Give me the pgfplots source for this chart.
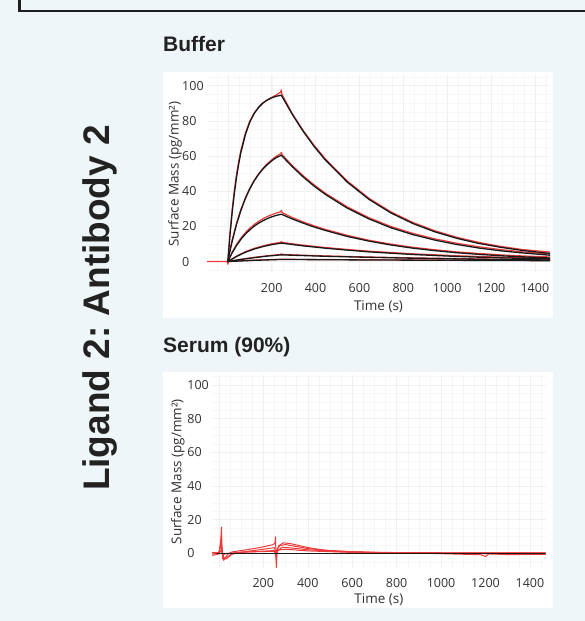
\documentclass[border=0pt]{standalone}
\usepackage{fontspec}
\usepackage{pgfplots}
\pgfplotsset{compat=1.18}
\setmainfont{Liberation Sans}
\newfontfamily\tickfont{Open Sans}
\definecolor{bg}{RGB}{238,246,249}
\definecolor{redline}{RGB}{236,58,58}
\definecolor{tickgray}{RGB}{50,50,50}
\definecolor{titlegray}{RGB}{34,34,34}
\frenchspacing

\pgfplotsset{
  kin/.style={
    scale only axis,
    axis line style={draw=none},
    major tick length=0pt, minor tick length=0pt,
    grid=both,
    major grid style={draw=black!6, line width=0.4pt},
    minor grid style={draw=black!3.5, line width=0.3pt},
    xtick={0,200,...,1400},
    xticklabels={{},200,400,600,800,1000,1200,1400},
    minor xtick={-50,0,...,1450},
    ytick={0,20,...,100},
    minor ytick={-5,0,...,105},
    /pgf/number format/assume math mode=true,
    /pgf/number format/1000 sep={},
    tick label style={font=\tickfont\fontsize{12.5}{14}\selectfont, text=tickgray, inner sep=0pt},
    xticklabel style={anchor=north, yshift=-10pt},
    yticklabel style={anchor=west, xshift=-25pt},
    label style={font=\tickfont\fontsize{13.5}{15}\selectfont, text=tickgray},
    xlabel={Time (s)},
    ylabel={Surface Mass (pg/mm²)},
    redc/.style={draw=redline, line width=1.2pt, line join=round},
    blkc/.style={draw=black!90, line width=1.3pt, line join=round},
  }
}

\begin{document}
\begin{tikzpicture}[x=1pt,y=1pt]
\useasboundingbox (0pt,0pt) rectangle (585pt,621pt);
\clip (0pt,0pt) rectangle (585pt,621pt);
\fill[bg] (0pt,0pt) rectangle (585pt,621pt);
\draw[line width=2.3pt, color=black!88] (19.5pt,640pt) -- (19.5pt,609.7pt) -- (600pt,609.7pt);
\fill[white] (163pt,303pt) rectangle (553pt,549pt);
\fill[white] (163pt,13pt) rectangle (553pt,249pt);

\node[rotate=90, anchor=base, inner sep=0pt, font=\bfseries\fontsize{37}{40}\selectfont, text=titlegray] at (109pt,313pt) {Ligand 2: Antibody 2};
\node[anchor=base west, inner sep=0pt, font=\bfseries\fontsize{21}{24}\selectfont, text=titlegray] at (163pt,569pt) {Buffer};
\node[anchor=base west, inner sep=0pt, font=\fontsize{21}{24}\selectfont\bfseries, text=titlegray] at (163pt,268pt) {Serum (90\%)};

% ---------- Buffer ----------
\begin{axis}[kin, at={(207pt,348pt)}, anchor=south west,
  width=343pt, height=198pt,
  xmin=-95, xmax=1469, ymin=-6.5, ymax=106,
  xlabel style={at={(axis description cs:0.5,-0.17)}, anchor=center},
  ylabel style={at={(axis description cs:-0.093,0.5)}, anchor=center}]
% red data
\addplot[redc] coordinates {(0,0) (10,16.5) (20,30) (30,41) (40,50) (50,57.3) (60,63.5) (80,73) (100,79.8) (120,84.3) (140,87.6) (160,90) (180,91.9) (200,93.3) (220,94.6) (240,96.2) (244,97.5) (246,95.5) (250,94.2) (294,84.0) (344,74.4) (394,65.9) (444,58.4) (544,45.8) (644,35.9) (744,28.2) (844,22.2) (944,17.5) (1044,13.8) (1144,10.9) (1244,8.6) (1344,6.8) (1470,5.4)};
\addplot[redc] coordinates {(0,0) (10,6.8) (20,12.4) (40,22.0) (60,29.8) (80,36.2) (100,41.6) (120,46.1) (140,49.8) (160,53.0) (180,55.6) (200,57.8) (220,59.8) (240,61.2) (244,62.0) (248,60.6) (294,54.5) (344,48.7) (394,43.5) (444,38.9) (544,31.1) (644,24.9) (744,19.9) (844,16.0) (944,12.9) (1044,10.4) (1144,8.4) (1244,6.8) (1344,5.5) (1470,4.3)};
\addplot[redc] coordinates {(0,0) (20,5.4) (40,9.8) (60,13.4) (80,16.4) (100,18.9) (120,21.0) (140,22.8) (160,24.3) (180,25.6) (200,26.6) (220,27.5) (240,28.3) (244,29.0) (248,27.8) (294,25.0) (344,22.5) (394,20.3) (444,18.3) (544,14.9) (644,12.1) (744,9.9) (844,8.1) (944,6.7) (1044,5.5) (1144,4.6) (1244,3.8) (1344,3.2) (1470,2.6)};
\addplot[redc] coordinates {(0,0) (40,3.1) (80,5.6) (120,7.5) (160,8.9) (200,10.1) (240,10.9) (244,11.3) (250,10.8) (344,9.3) (444,8.0) (544,6.9) (644,5.9) (844,4.4) (1044,3.3) (1244,2.5) (1470,1.9)};
\addplot[redc] coordinates {(0,0) (60,1.3) (120,2.4) (180,3.3) (240,4.0) (244,4.4) (250,4.0) (444,3.2) (644,2.6) (844,2.1) (1044,1.7) (1244,1.3) (1470,1.1)};
\addplot[redc] coordinates {(-95,0) (-3,0) (0,-1.5) (3,0.2) (120,0.8) (244,1.3) (644,1.0) (1044,0.8) (1470,0.6)};
% black fits
\addplot[blkc] coordinates {(0,0) (10,15.3) (20,28.2) (30,39.0) (40,48.1) (50,55.8) (60,62.2) (80,72.1) (100,79.2) (120,84.1) (140,87.6) (160,90.1) (180,91.8) (200,93.0) (220,93.9) (244,94.5) (294,83.6) (344,73.9) (394,65.3) (444,57.8) (544,45.2) (644,35.3) (744,27.6) (844,21.6) (944,16.9) (1044,13.2) (1144,10.3) (1244,8.1) (1344,6.3) (1470,4.6)};
\addplot[blkc] coordinates {(0,0) (10,6.1) (20,11.6) (40,21.3) (60,29.2) (80,35.8) (100,41.3) (120,45.8) (140,49.5) (160,52.6) (180,55.1) (200,57.2) (220,59.0) (244,60.4) (294,53.9) (344,48.0) (394,42.8) (444,38.2) (544,30.4) (644,24.2) (744,19.2) (844,15.3) (944,12.2) (1044,9.7) (1144,7.7) (1244,6.1) (1344,4.9) (1470,3.6)};
\addplot[blkc] coordinates {(0,0) (20,5.0) (40,9.2) (60,12.7) (80,15.6) (100,18.0) (120,20.1) (140,21.8) (160,23.2) (180,24.4) (200,25.4) (220,26.2) (244,26.9) (294,24.2) (344,21.8) (394,19.6) (444,17.7) (544,14.3) (644,11.6) (744,9.4) (844,7.6) (944,6.2) (1044,5.0) (1144,4.1) (1244,3.3) (1344,2.7) (1470,2.0)};
\addplot[blkc] coordinates {(0,0) (40,2.9) (80,5.3) (120,7.1) (160,8.5) (200,9.6) (244,10.5) (344,8.9) (444,7.6) (544,6.5) (644,5.5) (844,4.0) (1044,2.9) (1244,2.1) (1470,1.5)};
\addplot[blkc] coordinates {(0,0) (60,1.2) (120,2.2) (180,3.1) (244,3.8) (444,3.0) (644,2.4) (844,1.9) (1044,1.5) (1244,1.1) (1470,0.9)};
\addplot[blkc] coordinates {(0,0) (120,0.7) (244,1.2) (644,0.9) (1044,0.7) (1470,0.5)};
\end{axis}

% ---------- Serum ----------
\begin{axis}[kin, at={(212.2pt,52.6pt)}, anchor=south west,
  width=333.3pt, height=193.5pt,
  xmin=-30, xmax=1470, ymin=-9, ymax=106,
  xlabel style={at={(axis description cs:0.5,-0.163)}, anchor=center},
  ylabel style={at={(axis description cs:-0.103,0.5)}, anchor=center}]
\addplot[redc, line width=1pt] coordinates {(-30,0.5) (-15,0.3) (0,0.4) (5,3) (9,9) (12,15.5) (14,3) (17,-3) (22,-4.2) (30,-2.5) (40,-0.5) (60,0.8) (100,1.6) (150,2.6) (200,3.8) (240,5.0) (252,5.8) (255,9.8) (257,-2) (259,-8.5) (262,1.5) (270,4.5) (290,6.2) (320,5.8) (360,4.6) (400,3.4) (450,2.3) (500,1.6) (560,1.2) (600,0.9) (700,0.6) (800,0.4) (1000,0.3) (1200,0.2) (1470,0.2)};
\addplot[redc, line width=1pt] coordinates {(-30,-1.2) (-10,-0.8) (0,-0.3) (5,4) (9,6.8) (13,5) (17,0) (22,-2.5) (32,-3.4) (45,-2) (60,-0.4) (100,0.6) (150,1.5) (200,2.4) (250,3.3) (255,1) (258,-4) (262,2.5) (275,4.6) (300,5.2) (340,4.2) (400,2.8) (480,1.7) (560,1.1) (700,0.5) (900,0.1) (1100,-0.6) (1180,-0.9) (1200,-1.9) (1215,-0.4) (1300,-0.8) (1470,-0.6)};
\addplot[redc, line width=1pt] coordinates {(-30,-0.4) (0,0) (6,3.5) (10,4.6) (15,0.5) (22,-3.6) (35,-2.8) (50,-1) (80,0.3) (150,0.9) (250,1.6) (256,-1.5) (262,1.2) (285,3.6) (320,3.2) (400,2.1) (500,1.2) (600,0.6) (800,0.2) (1000,-0.1) (1470,-0.3)};
\addplot[redc, line width=1pt] coordinates {(-30,0.2) (0,0) (10,1.8) (18,-1.2) (30,-0.2) (100,0.7) (200,1.0) (250,1.2) (258,0) (270,2) (300,2.4) (400,1.4) (600,0.5) (900,0.2) (1200,0.3) (1470,0.2)};
\addplot[blkc, line width=1.2pt] coordinates {(-10,0) (200,0) (600,0) (1000,0) (1470,0)};
\end{axis}
\end{tikzpicture}
\end{document}
